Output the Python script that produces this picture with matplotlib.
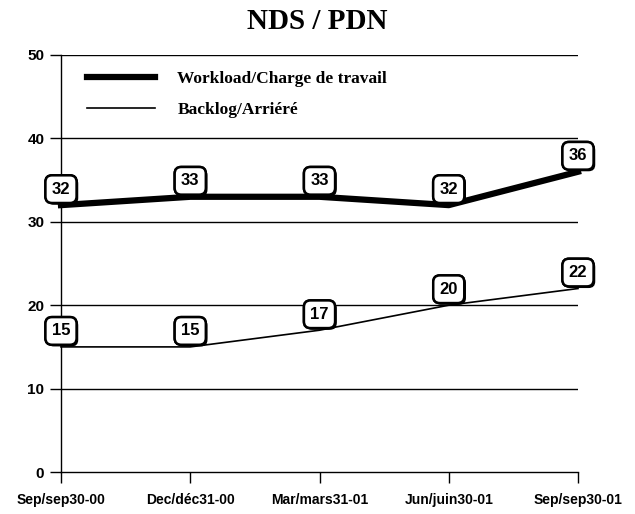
import matplotlib
matplotlib.use("Agg")
import matplotlib.pyplot as plt
import matplotlib.patheffects as pe

categories = ["Sep/sep30-00", "Dec/déc31-00", "Mar/mars31-01", "Jun/juin30-01", "Sep/sep30-01"]
workload = [32, 33, 33, 32, 36]
backlog = [15, 15, 17, 20, 22]
yticks = [0, 10, 20, 30, 40, 50]

fig = plt.figure(figsize=(6.35, 5.14), dpi=100)
ax = fig.add_axes([61/635, 1-472/514, (578-61)/635, (472-55)/514])

x = list(range(len(categories)))
ax.plot(x, workload, color="black", lw=4.5, clip_on=False, zorder=3,
        label="Workload/Charge de travail")
ax.plot(x, backlog, color="black", lw=1.2, clip_on=False, zorder=3,
        label="Backlog/Arriéré")

box = dict(boxstyle="round,pad=0.38,rounding_size=0.4", fc="white", ec="black", lw=1.8)
for series in (workload, backlog):
    for xi, v in zip(x, series):
        a = ax.annotate(str(v), (xi, v), xytext=(0, 11.5), textcoords="offset points",
                        ha="center", va="center", fontsize=12, fontweight="bold",
                        family="Liberation Sans", bbox=box, zorder=5, annotation_clip=False)
        a.get_bbox_patch().set_path_effects(
            [pe.withSimplePatchShadow(offset=(1.2, -1.2), shadow_rgbFace="black", alpha=1.0),
             pe.Normal()])

ax.set_xlim(0, 4)
ax.set_ylim(0, 50)
ax.set_yticks(yticks)
ax.set_xticks(x)
ax.set_xticklabels(categories, fontsize=10, fontweight="bold", family="Liberation Sans")
ax.set_yticklabels([str(t) for t in yticks], fontsize=11, fontweight="bold", family="Liberation Sans")
ax.tick_params(axis="both", direction="out", length=8, width=1, color="black")
ax.tick_params(axis="x", pad=7)
ax.tick_params(axis="y", pad=4)

for t in yticks[1:]:
    ax.axhline(t, color="black", lw=1, zorder=1)

for s in ("top", "right"):
    ax.spines[s].set_visible(False)
ax.spines["left"].set_linewidth(1)
ax.spines["bottom"].set_linewidth(1)

leg = ax.legend(loc="upper left", bbox_to_anchor=(0.02, 1.0), frameon=False,
                handlelength=3.9, handletextpad=1.3, labelspacing=0.85,
                prop=dict(family="Liberation Serif", weight="bold", size=12.5))

fig.text(0.5, 0.959, "NDS / PDN", ha="center", va="center", fontsize=21,
         fontweight="bold", family="Liberation Serif")

fig.savefig("out.png", dpi=100)
